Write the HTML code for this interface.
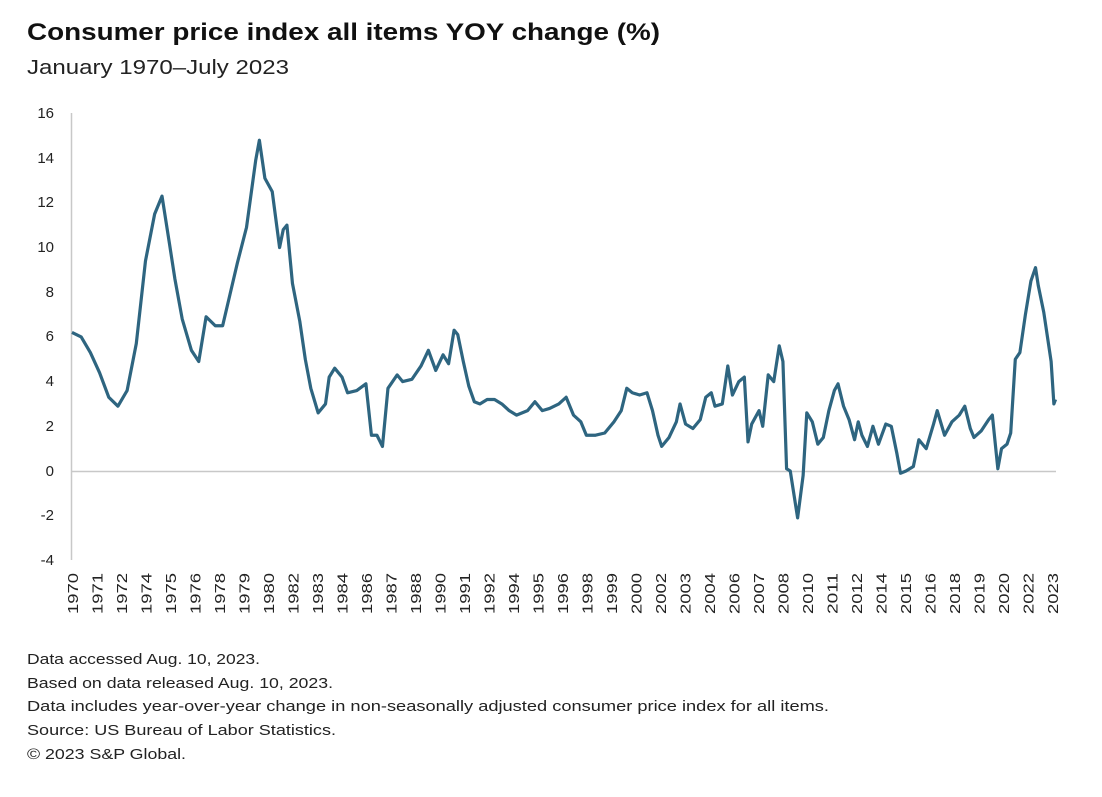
<!DOCTYPE html>
<html><head><meta charset="utf-8"><style>
body{margin:0;background:#fff;width:1102px;height:792px;overflow:hidden;font-family:"Liberation Sans",sans-serif;color:#111}
</style></head><body>
<svg width="1102" height="792" xmlns="http://www.w3.org/2000/svg" font-family="Liberation Sans, sans-serif">
<text x="27" y="40" font-size="24" font-weight="bold" fill="#111" textLength="633" lengthAdjust="spacingAndGlyphs">Consumer price index all items YOY change (%)</text>
<text x="27" y="74" font-size="20" fill="#222" textLength="262" lengthAdjust="spacingAndGlyphs">January 1970–July 2023</text>
<g font-size="15" fill="#222" text-anchor="end">
<text x="54" y="118">16</text><text x="54" y="163">14</text><text x="54" y="207">12</text><text x="54" y="252">10</text>
<text x="54" y="297">8</text><text x="54" y="341">6</text><text x="54" y="386">4</text><text x="54" y="431">2</text>
<text x="54" y="476">0</text><text x="54" y="520">-2</text><text x="54" y="565">-4</text>
</g>
<line x1="71.5" y1="113" x2="71.5" y2="560" stroke="#c8c8c8" stroke-width="1.5"/>
<line x1="71" y1="471.5" x2="1056" y2="471.5" stroke="#c8c8c8" stroke-width="1.5"/>
<g id="xl" font-size="15" fill="#222" text-anchor="end"></g>
<polyline fill="none" stroke="#2e6580" stroke-width="3.2" stroke-linejoin="round" vector-effect="non-scaling-stroke" transform="translate(72,471) scale(18.37,-22.35)" points="0,6.2 0.5,6.0 1,5.3 1.5,4.4 2,3.3 2.5,2.9 3,3.6 3.5,5.7 4,9.4 4.5,11.5 4.9,12.3 5.3,10.2 5.6,8.6 6,6.8 6.5,5.4 6.9,4.9 7.3,6.9 7.8,6.5 8.2,6.5 8.6,7.9 9,9.3 9.5,10.9 10,13.9 10.2,14.8 10.5,13.1 10.9,12.5 11.3,10.0 11.5,10.8 11.7,11.0 12,8.4 12.4,6.7 12.7,5.0 13,3.7 13.4,2.6 13.8,3.0 14,4.2 14.3,4.6 14.7,4.2 15,3.5 15.5,3.6 16,3.9 16.3,1.6 16.6,1.6 16.9,1.1 17.2,3.7 17.7,4.3 18,4.0 18.5,4.1 19,4.7 19.4,5.4 19.8,4.5 20.2,5.2 20.5,4.8 20.8,6.3 21,6.1 21.3,4.9 21.6,3.8 21.9,3.1 22.2,3.0 22.6,3.2 23,3.2 23.4,3.0 23.8,2.7 24.2,2.5 24.8,2.7 25.2,3.1 25.6,2.7 26,2.8 26.5,3.0 26.9,3.3 27.3,2.5 27.7,2.2 28,1.6 28.5,1.6 29,1.7 29.5,2.2 29.9,2.7 30.2,3.7 30.5,3.5 30.9,3.4 31.3,3.5 31.6,2.7 31.9,1.6 32.1,1.1 32.5,1.5 32.9,2.2 33.1,3.0 33.4,2.1 33.8,1.9 34.2,2.3 34.5,3.3 34.8,3.5 35,2.9 35.4,3.0 35.7,4.7 35.95,3.4 36.3,4.0 36.6,4.2 36.8,1.3 37,2.1 37.4,2.7 37.6,2.0 37.9,4.3 38.2,4.0 38.5,5.6 38.7,4.9 38.9,0.1 39.1,0.0 39.5,-2.1 39.8,-0.2 40,2.6 40.3,2.2 40.6,1.2 40.9,1.5 41.2,2.7 41.5,3.6 41.7,3.9 42,2.9 42.3,2.3 42.6,1.4 42.8,2.2 43,1.6 43.3,1.1 43.6,2.0 43.9,1.2 44.3,2.1 44.6,2.0 44.9,0.8 45.1,-0.1 45.4,0.0 45.8,0.2 46.1,1.4 46.5,1.0 46.9,2.1 47.1,2.7 47.5,1.6 47.9,2.2 48.3,2.5 48.6,2.9 48.9,1.9 49.1,1.5 49.5,1.8 49.9,2.3 50.1,2.5 50.4,0.1 50.6,1.0 50.9,1.2 51.1,1.7 51.35,5.0 51.6,5.3 51.9,7.0 52.2,8.5 52.45,9.1 52.6,8.3 52.9,7.1 53.1,6.0 53.3,4.9 53.45,3.0 53.54,3.2"/>
<g font-size="15" fill="#222">
<text x="27" y="664" textLength="233" lengthAdjust="spacingAndGlyphs">Data accessed Aug. 10, 2023.</text>
<text x="27" y="688" textLength="306" lengthAdjust="spacingAndGlyphs">Based on data released Aug. 10, 2023.</text>
<text x="27" y="711" textLength="802" lengthAdjust="spacingAndGlyphs">Data includes year-over-year change in non-seasonally adjusted consumer price index for all items.</text>
<text x="27" y="735" textLength="309" lengthAdjust="spacingAndGlyphs">Source: US Bureau of Labor Statistics.</text>
<text x="27" y="759" textLength="159" lengthAdjust="spacingAndGlyphs">© 2023 S&amp;P Global.</text>
</g>
</svg>
<script>
var ys=[1970,1971,1972,1974,1975,1976,1978,1979,1980,1982,1983,1984,1986,1987,1988,1990,1991,1992,1994,1995,1996,1998,1999,2000,2002,2003,2004,2006,2007,2008,2010,2011,2012,2014,2015,2016,2018,2019,2020,2022,2023];
var g=document.getElementById('xl'),s='';
ys.forEach(function(y,i){var x=73+i*24.5+5;s+='<text transform="translate('+x+',573) rotate(-90)" textLength="41" lengthAdjust="spacingAndGlyphs">'+y+'</text>';});
g.innerHTML=s;
</script>
</body></html>
